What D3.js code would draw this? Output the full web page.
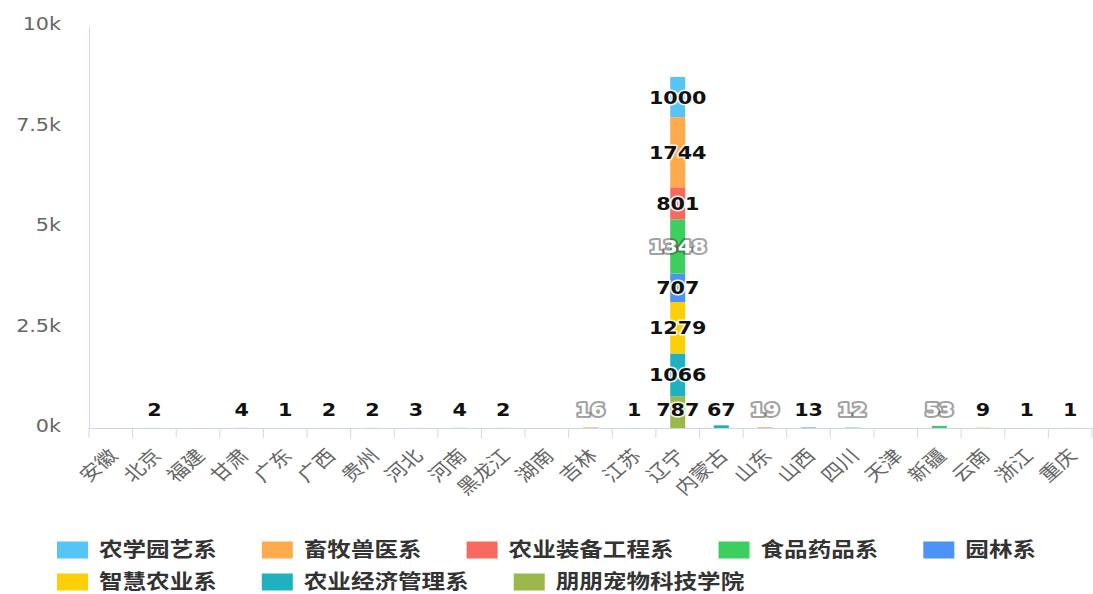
<!DOCTYPE html>
<html>
<head>
<meta charset="utf-8">
<script src="https://cdn.jsdelivr.net/npm/d3@7/dist/d3.min.js"></script>
<style>
  html, body { margin: 0; padding: 0; background: #fff; }
  svg { display: block; }
</style>
</head>
<body>
<svg id="chart" width="1093" height="594"></svg>
<script>
// ---------------- data ----------------
const categories = ['安徽','北京','福建','甘肃','广东','广西','贵州','河北','河南','黑龙江','湖南','吉林','江苏','辽宁','内蒙古','山东','山西','四川','天津','新疆','云南','浙江','重庆'];

const seriesNames = ['农学园艺系','畜牧兽医系','农业装备工程系','食品药品系','园林系','智慧农业系','农业经济管理系','朋朋宠物科技学院'];
const seriesColors = ['#56c5f5','#ffaa4c','#f76b5e','#3ccf5e','#4b93f5','#fdcf07','#1fb1bf','#9cb84b'];

const nongxueYuanyi   = [0,2,0,0,0,0,0,0,4,0,0,0,0,1000,0,0,0,12,0,0,0,1,0];
const xumuShouyi      = [0,0,0,4,0,0,0,3,0,0,0,16,0,1744,0,19,0,0,0,0,0,0,0];
const nongyeZhuangbei = [0,0,0,0,0,0,0,0,0,0,0,0,0,801,0,0,0,0,0,0,0,0,0];
const shipinYaopin    = [0,0,0,0,1,0,0,0,0,0,0,0,1,1348,0,0,0,0,0,53,0,0,0];
const yuanlin         = [0,0,0,0,0,0,0,0,0,2,0,0,0,707,0,0,0,0,0,0,0,0,1];
const zhihuiNongye    = [0,0,0,0,0,2,0,0,0,0,0,0,0,1279,0,0,0,0,0,0,9,0,0];
const nongyeJingji    = [0,0,0,0,0,0,2,0,0,0,0,0,0,1066,67,0,13,0,0,0,0,0,0];
const pengpengChongwu = [0,0,0,0,0,0,0,0,0,0,0,0,0,787,0,0,0,0,0,0,0,0,0];

const seriesValues = [nongxueYuanyi, xumuShouyi, nongyeZhuangbei, shipinYaopin, yuanlin, zhihuiNongye, nongyeJingji, pengpengChongwu];

const yTicks = [0, 2500, 5000, 7500, 10000];
const yTickLabels = ['0k', '2.5k', '5k', '7.5k', '10k'];

// labels drawn light (white with dark outline) in the reference: [series, category]
const lightLabels = [['食品药品系','辽宁'], ['畜牧兽医系','吉林'], ['畜牧兽医系','山东'], ['农学园艺系','四川'], ['食品药品系','新疆']];

// ---------------- layout ----------------
const SX = 1.15;               // horizontal stretch of the reference rendering
const W = 1093, H = 594;
const BW = W / SX;             // base width
const plotLeft = 89 / SX, plotRight = 1092 / SX;
const plotTop = 26, plotBottom = 428;

const svg = d3.select('#chart');
svg.append('rect').attr('width', W).attr('height', H).attr('fill', '#fff');
const g = svg.append('g').attr('transform', `scale(${SX},1)`);

const x = d3.scaleBand().domain(categories).range([plotLeft, plotRight]).paddingInner(0).paddingOuter(0);
const y = d3.scaleLinear().domain([0, 10000]).range([plotBottom, plotTop]);
const color = d3.scaleOrdinal().domain(seriesNames).range(seriesColors);

// table for stacking
const table = categories.map((c, i) => {
  const row = { cat: c };
  seriesNames.forEach((s, k) => row[s] = seriesValues[k][i]);
  return row;
});
// first series on top -> stack from the last series upward
const stackKeys = seriesNames.slice().reverse();
const stacked = d3.stack().keys(stackKeys)(table);

const axisColor = '#ccd6eb';
const labelFont = '"DejaVu Sans", Verdana, sans-serif';
const cjkFont = '"Noto Sans CJK SC", "DejaVu Sans", sans-serif';

// ---------- y axis ----------
const yAxis = d3.axisLeft(y).tickValues(yTicks)
  .tickFormat((d, i) => yTickLabels[i]).tickSizeInner(0).tickSizeOuter(0).tickPadding(28 / SX);
const yg = g.append('g').attr('transform', `translate(${plotLeft},0)`).call(yAxis);
yg.select('.domain').attr('stroke', axisColor).attr('stroke-width', 1 / SX);
yg.selectAll('text').attr('fill', '#666').attr('font-size', 18).attr('font-family', labelFont).attr('dy', '0.2em');

// ---------- x axis ----------
const xAxis = d3.axisBottom(x).tickSize(0).tickPadding(0);
const xg = g.append('g').attr('transform', `translate(0,${plotBottom})`).call(xAxis);
xg.select('.domain').attr('stroke', axisColor).attr('stroke-width', 1);
xg.selectAll('text')
  .attr('fill', '#666').attr('font-size', 18.5).attr('font-family', cjkFont)
  .attr('text-anchor', 'end').attr('y', 0).attr('dy', 0)
  .attr('transform', 'translate(7,29) rotate(-45)');
// boundary tick marks
const boundaries = categories.map(c => x(c)).concat([plotRight]);
g.append('g').selectAll('line').data(boundaries).join('line')
  .attr('x1', d => d).attr('x2', d => d)
  .attr('y1', plotBottom).attr('y2', plotBottom + 10)
  .attr('stroke', axisColor).attr('stroke-width', 1 / SX);

// ---------- bars ----------
const barW = 15 / SX;
const barsG = g.append('g');
stacked.forEach(layer => {
  barsG.append('g').attr('fill', color(layer.key))
    .selectAll('rect').data(layer.filter(d => d[1] - d[0] > 0)).join('rect')
    .attr('x', d => x(d.data.cat) + x.bandwidth() / 2 - barW / 2)
    .attr('width', barW)
    .attr('y', d => y(d[1]))
    .attr('height', d => y(d[0]) - y(d[1]));
});

// ---------- data labels ----------
const isLight = (s, c) => lightLabels.some(p => p[0] === s && p[1] === c);
const labelsG = g.append('g');
stacked.forEach(layer => {
  layer.forEach(d => {
    const v = d[1] - d[0];
    if (v <= 0) return;
    const cat = d.data.cat;
    const cy = Math.min((y(d[0]) + y(d[1])) / 2, plotBottom - 18);
    const light = isLight(layer.key, cat);
    labelsG.append('text')
      .attr('x', x(cat) + x.bandwidth() / 2)
      .attr('y', cy)
      .attr('dy', '0.36em')
      .attr('text-anchor', 'middle')
      .attr('font-family', labelFont)
      .attr('font-weight', 'bold')
      .attr('font-size', 18)
      .attr('fill', light ? '#ffffff' : '#111111')
      .attr('stroke', light ? 'rgba(70,70,70,0.5)' : 'rgba(255,255,255,0.9)')
      .attr('stroke-width', light ? 4 : 3)
      .attr('stroke-linejoin', 'round')
      .attr('paint-order', 'stroke')
      .text(v);
  });
});

// ---------- legend ----------
const legendG = g.append('g');
const symW = 31 / SX, symH = 17, symGap = 11 / SX, itemDist = 45 / SX;
const rowY = [550, 582];
const items = seriesNames.map((s, i) => {
  const it = legendG.append('g');
  it.append('rect').attr('width', symW).attr('height', symH).attr('y', -symH / 2).attr('fill', seriesColors[i]);
  const t = it.append('text').attr('x', symW + symGap).attr('dy', '0.36em')
    .attr('font-family', cjkFont).attr('font-weight', 'bold').attr('font-size', 20.5).attr('fill', '#333').text(s);
  const w = symW + symGap + t.node().getComputedTextLength();
  return { node: it, w };
});
const maxRow = BW - 20 / SX;
const rows = [[]];
let cur = 0;
items.forEach(it => {
  const need = (rows[rows.length - 1].length ? itemDist : 0) + it.w;
  if (cur + need > maxRow && rows[rows.length - 1].length) { rows.push([]); cur = 0; }
  const row = rows[rows.length - 1];
  it.x = cur + (row.length ? itemDist : 0);
  cur = it.x + it.w;
  row.push(it);
});
const rowWidths = rows.map(r => r[r.length - 1].x + r[r.length - 1].w);
const legendLeft = (BW - d3.max(rowWidths)) / 2;
rows.forEach((r, ri) => r.forEach(it => it.node.attr('transform', `translate(${legendLeft + it.x},${rowY[ri]})`)));
</script>
</body>
</html>
